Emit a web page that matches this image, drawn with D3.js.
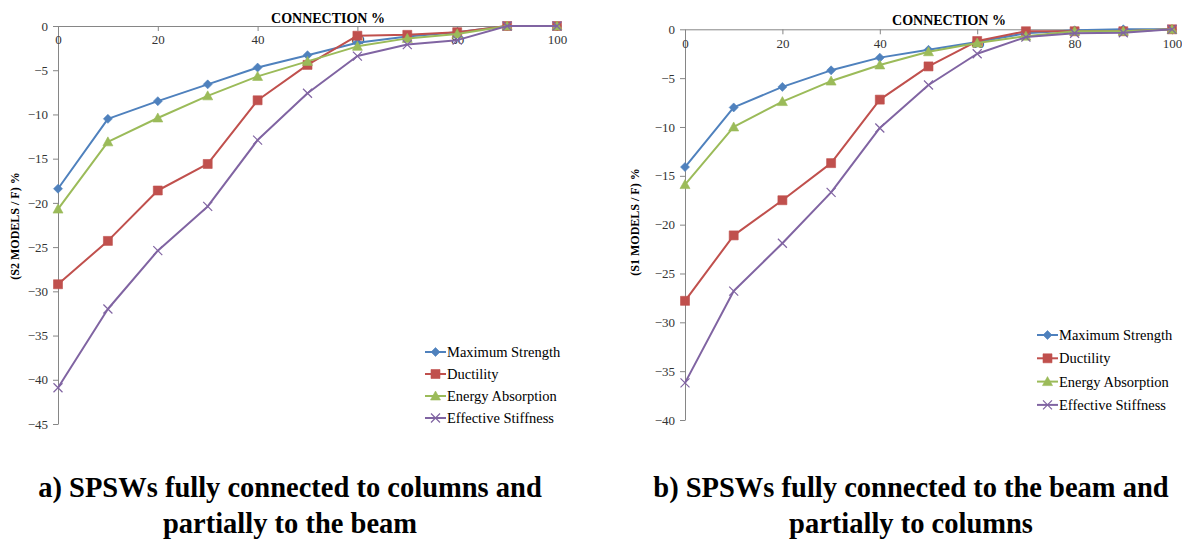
<!DOCTYPE html>
<html>
<head>
<meta charset="utf-8">
<script src="https://cdn.jsdelivr.net/npm/d3@7"></script>
<style>
  body { margin: 0; background: #fff; }
  svg text { font-family: "Liberation Serif", "DejaVu Serif", serif; }
  .axis path, .axis line { stroke: #868686; }
  .axis text { fill: #333; font-size: 13px; }
</style>
</head>
<body>
<div class="chart"></div>
<script>
// connection % on the x axis (same for both panels)
var connection = [0, 10, 20, 30, 40, 50, 60, 70, 80, 90, 100];
var seriesNames = ["Maximum Strength", "Ductility", "Energy Absorption", "Effective Stiffness"];
var xTicks = [0, 20, 40, 60, 80, 100];

// panel a) S2 models
var s2Strength  = [-18.4, -10.5, -8.5, -6.6, -4.7, -3.3, -1.9, -1.2, -0.7, 0, 0];
var s2Ductility = [-29.2, -24.3, -18.6, -15.6, -8.4, -4.4, -1.1, -1.0, -0.7, 0, 0];
var s2Energy    = [-20.7, -13.1, -10.4, -7.9, -5.7, -4.0, -2.3, -1.4, -0.9, 0, 0];
var s2Stiffness = [-40.9, -32.0, -25.4, -20.4, -12.9, -7.6, -3.4, -2.1, -1.6, 0, 0];
var s2YTicks = [0, -5, -10, -15, -20, -25, -30, -35, -40, -45];

// panel b) S1 models
var s1Strength  = [-14.1, -8.0, -5.9, -4.2, -2.9, -2.1, -1.3, -0.4, -0.1, 0, 0];
var s1Ductility = [-27.8, -21.1, -17.5, -13.7, -7.2, -3.8, -1.2, -0.2, -0.2, -0.2, 0];
var s1Energy    = [-15.9, -10.0, -7.4, -5.3, -3.65, -2.3, -1.4, -0.7, -0.2, -0.2, 0];
var s1Stiffness = [-36.2, -26.8, -21.9, -16.7, -10.1, -5.7, -2.5, -0.8, -0.4, -0.35, 0];
var s1YTicks = [0, -5, -10, -15, -20, -25, -30, -35, -40];

var colors = ["#4F81BD", "#C0504D", "#9BBB59", "#8064A2"];
var markers = ["diamond", "square", "triangle", "x"];
var serif = "'Liberation Serif', 'DejaVu Serif', serif";

var svg = d3.select(".chart")
  .append("svg")
  .attr("width", 1182)
  .attr("height", 541)
  .attr("font-family", serif);

function markerPath(type) {
  if (type == "diamond") return "M0,-4.5L4.5,0L0,4.5L-4.5,0Z";
  if (type == "square") return "M-4.5,-4.5H4.5V4.5H-4.5Z";
  if (type == "triangle") return "M0,-5L5,4L-5,4Z";
  return "M-4.5,-4.5L4.5,4.5M-4.5,4.5L4.5,-4.5";
}

function addMarker(g, type, color, x, y) {
  var p = g.append("path")
    .attr("d", markerPath(type))
    .attr("transform", `translate(${x}, ${y})`);
  if (type == "x") {
    p.attr("fill", "none").attr("stroke", color).attr("stroke-width", 1.2);
  } else {
    p.attr("fill", color).attr("stroke", color).attr("stroke-width", 0.6);
  }
}

function drawPanel(p) {
  var g = svg.append("g");

  var x = d3.scaleLinear().domain([0, 100]).range(p.xRange);
  var y = d3.scaleLinear().domain([p.yMin, 0]).range(p.yRange);

  // y axis
  g.append("g")
    .attr("class", "axis")
    .attr("transform", `translate(${p.xRange[0]}, 0)`)
    .call(d3.axisLeft(y).tickValues(p.yTicks).tickSize(5).tickSizeOuter(0).tickPadding(5))
    .attr("font-family", serif);

  // x axis along y = 0, labels below
  g.append("g")
    .attr("class", "axis")
    .attr("transform", `translate(0, ${y(0)})`)
    .call(d3.axisBottom(x).tickValues(xTicks).tickSize(5).tickSizeOuter(0).tickPadding(4))
    .attr("font-family", serif);

  // axis titles
  g.append("text")
    .attr("x", p.titleX)
    .attr("y", p.titleY)
    .attr("text-anchor", "middle")
    .style("font-weight", "bold")
    .style("font-size", "14px")
    .text("CONNECTION %");

  g.append("text")
    .attr("transform", `translate(${p.yLabelX}, ${p.yLabelY}) rotate(-90)`)
    .attr("text-anchor", "middle")
    .style("font-weight", "bold")
    .style("font-size", "12px")
    .text(p.yLabel);

  // lines and markers
  var line = d3.line().x((d, i) => x(connection[i])).y(d => y(d));
  p.series.forEach((vals, k) => {
    g.append("path")
      .datum(vals)
      .attr("fill", "none")
      .attr("stroke", colors[k])
      .attr("stroke-width", 2)
      .attr("stroke-linejoin", "round")
      .attr("d", line);
    vals.forEach((v, i) => addMarker(g, markers[k], colors[k], x(connection[i]), y(v)));
  });

  // legend
  var lg = g.append("g").attr("transform", `translate(${p.legendX}, ${p.legendY})`);
  seriesNames.forEach((name, k) => {
    var row = lg.append("g").attr("transform", `translate(0, ${k * p.legendStep})`);
    row.append("line")
      .attr("x1", 0).attr("x2", 21)
      .attr("stroke", colors[k]).attr("stroke-width", 2);
    addMarker(row, markers[k], colors[k], 10.5, 0);
    row.append("text")
      .attr("x", 22)
      .attr("dy", "0.35em")
      .style("font-size", "14.5px")
      .text(name);
  });

  // caption
  p.caption.forEach((t, i) => {
    svg.append("text")
      .attr("x", p.captionX)
      .attr("y", 497 + i * 36)
      .attr("text-anchor", "middle")
      .style("font-weight", "bold")
      .style("font-size", "28.5px")
      .text(t);
  });
}

drawPanel({
  xRange: [58, 557], yRange: [424, 26], yMin: -45, yTicks: s2YTicks,
  series: [s2Strength, s2Ductility, s2Energy, s2Stiffness],
  titleX: 328, titleY: 23,
  yLabel: "(S2 MODELS / F) %", yLabelX: 19, yLabelY: 226,
  legendX: 425, legendY: 352, legendStep: 22,
  captionX: 290,
  caption: ["a) SPSWs fully connected to columns and", "partially to the beam"]
});

drawPanel({
  xRange: [685, 1172], yRange: [420, 29.3], yMin: -40, yTicks: s1YTicks,
  series: [s1Strength, s1Ductility, s1Energy, s1Stiffness],
  titleX: 949, titleY: 25,
  yLabel: "(S1 MODELS / F) %", yLabelX: 639, yLabelY: 222,
  legendX: 1037, legendY: 335, legendStep: 23.3,
  captionX: 911,
  caption: ["b) SPSWs fully connected to the beam and", "partially to columns"]
});
</script>
</body>
</html>
